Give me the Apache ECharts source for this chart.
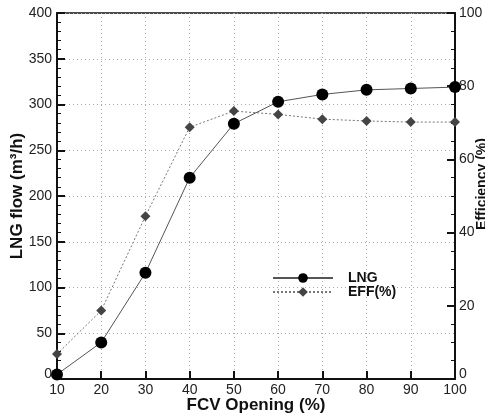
<!DOCTYPE html>
<html><head><meta charset="utf-8">
<script src="https://cdn.jsdelivr.net/npm/echarts@6/dist/echarts.min.js"></script>
<style>html,body{margin:0;padding:0;background:#fff}#c{width:485px;height:417px}</style>
</head><body><div id="c"></div>
<script>
const opening = [10, 20, 30, 40, 50, 60, 70, 80, 90, 100];
const lngFlow = [5, 40, 116, 220, 279, 303, 311, 316, 317.5, 319];
const efficiency = [6.8, 18.7, 44.5, 68.8, 73.2, 72.3, 71, 70.5, 70.2, 70.2];
const FONT = '"Liberation Sans", Arial, sans-serif';

const chart = echarts.init(document.getElementById('c'));
chart.setOption({
  animation: false,
  backgroundColor: '#fff',
  textStyle: { fontFamily: FONT },
  grid: { left: 57, right: 30, top: 13, bottom: 38, containLabel: false, outerBoundsMode: 'none',
          show: true, borderColor: '#111', borderWidth: 1.5 },
  legend: {
    left: 267, top: 266, orient: 'vertical', itemWidth: 60, itemHeight: 12, itemGap: 0,
    textStyle: { fontFamily: FONT, fontWeight: 'bold', fontSize: 14, color: '#111', padding: [0, 0, 0, 10] },
    data: ['LNG', 'EFF(%)']
  },
  xAxis: {
    type: 'value', min: 10, max: 100, interval: 10,
    name: 'FCV Opening (%)', nameLocation: 'middle', nameGap: 18, nameMoveOverlap: false,
    nameTextStyle: { fontFamily: FONT, fontWeight: 'bold', fontSize: 17, color: '#111' },
    axisLine: { lineStyle: { color: '#111', width: 2 } },
    axisTick: { inside: true, length: 8, lineStyle: { color: '#111', width: 2 } },
    axisLabel: { fontSize: 14, color: '#222', margin: 4, fontFamily: FONT },
    splitLine: { show: true, lineStyle: { color: '#aaa', type: [1, 3], width: 1 } }
  },
  yAxis: [{
    type: 'value', min: 0, max: 400, interval: 50,
    name: 'LNG flow (m³/h)', nameLocation: 'middle', nameGap: 31, nameMoveOverlap: false,
    nameTextStyle: { fontFamily: FONT, fontWeight: 'bold', fontSize: 17, color: '#111' },
    axisLine: { show: true, lineStyle: { color: '#111', width: 2 } },
    axisTick: { inside: true, length: 8, lineStyle: { color: '#111', width: 2 } },
    minorTick: { show: true, splitNumber: 5, length: 4, lineStyle: { color: '#111' } },
    axisLabel: {
      fontSize: 14, color: '#222', margin: 5, fontFamily: FONT,
      formatter: v => v === 0 ? '{z|0}' : String(v),
      rich: { z: { fontSize: 14, color: '#222', padding: [0, 0, 10, 0] } }
    },
    splitLine: { show: true, lineStyle: { color: '#aaa', type: [1, 3], width: 1 } }
  }, {
    type: 'value', min: 0, max: 100, interval: 20, position: 'right',
    name: 'Efficiency (%)', nameLocation: 'middle', nameGap: 20, nameRotate: 90, nameMoveOverlap: false,
    nameTextStyle: { fontFamily: FONT, fontWeight: 'bold', fontSize: 14, color: '#111', padding: [0, 0, 0, 24] },
    axisLine: { show: true, lineStyle: { color: '#111', width: 2 } },
    axisTick: { inside: true, length: 8, lineStyle: { color: '#111', width: 2 } },
    minorTick: { show: true, splitNumber: 4, length: 4, lineStyle: { color: '#111' } },
    axisLabel: {
      fontSize: 14, color: '#222', margin: 4, fontFamily: FONT,
      formatter: v => v === 0 ? '{z|0}' : String(v),
      rich: { z: { fontSize: 14, color: '#222', padding: [0, 0, 10, 0] } }
    },
    splitLine: { show: false }
  }],
  series: [{
    name: 'LNG', type: 'line', yAxisIndex: 0,
    data: opening.map((x, i) => [x, lngFlow[i]]),
    symbol: 'circle', symbolSize: 12,
    itemStyle: { color: '#000' },
    lineStyle: { color: '#555', width: 1 }, z: 3
  }, {
    name: 'EFF(%)', type: 'line', yAxisIndex: 1,
    data: opening.map((x, i) => [x, efficiency[i]]),
    symbol: 'diamond', symbolSize: 10,
    itemStyle: { color: '#444' },
    lineStyle: { color: '#777', width: 1, type: [2, 2] }, z: 2
  }]
});
</script></body></html>
